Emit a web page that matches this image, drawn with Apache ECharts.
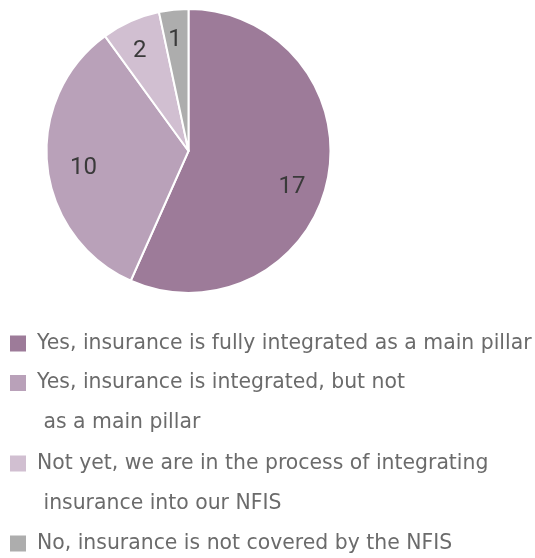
<!DOCTYPE html>
<html><head><meta charset="utf-8">
<script src="https://cdn.jsdelivr.net/npm/echarts@6/dist/echarts.min.js"></script>
<style>html,body{margin:0;padding:0;background:#fff}#c{width:535px;height:558px}</style>
</head><body><div id="c"></div>
<script>
const categories = [
  "Yes, insurance is fully integrated as a main pillar",
  "Yes, insurance is integrated, but not\n as a main pillar",
  "Not yet, we are in the process of integrating\n insurance into our NFIS",
  "No, insurance is not covered by the NFIS"
];
const values = [17, 10, 2, 1];
const colors = ["#9d7b99", "#b9a1b9", "#d1bfd1", "#adadad"];

const chart = echarts.init(document.getElementById('c'));
const legendTops = [323.5, 363, 443.5, 523.5];
const legends = categories.map((name, i) => {
  const lines = name.split('\n').length;
  const h = 16 + (lines - 1) * 40;
  return {
    orient: 'vertical',
    left: 10,
    top: legendTops[i],
    padding: 0,
    itemWidth: 22,
    itemHeight: h,
    icon: 'path://M0 0L16 0L16 16L0 16Z M22 ' + h,
    itemStyle: { borderWidth: 0 },
    selectedMode: false,
    data: [name],
    textStyle: { fontFamily: 'DejaVu Sans', fontSize: 20.4, color: '#6b6b6b', lineHeight: 40 }
  };
});
const labelShift = [[-5, 12.5], [5.5, 5.5], [-3.5, 1], [-2, -0.5]];
chart.setOption({
  animation: false,
  color: colors,
  legend: legends,
  series: [{
    type: 'pie',
    center: [188.5, 151],
    radius: 142,
    startAngle: 90,
    label: { show: false },
    labelLine: { show: false },
    itemStyle: { borderColor: '#ffffff', borderWidth: 2 },
    emphasis: { disabled: true },
    data: categories.map((n, i) => ({ name: n, value: values[i] }))
  }, {
    type: 'pie',
    center: [188.5, 151],
    radius: [74, 142],
    startAngle: 90,
    silent: true,
    itemStyle: { color: 'rgba(0,0,0,0)' },
    label: { show: true, position: 'inside', formatter: '{c}', fontFamily: 'Roboto', fontSize: 24, color: '#3a3a3a' },
    labelLine: { show: false },
    labelLayout: function (p) { const s = labelShift[p.dataIndex]; return { dx: s[0], dy: s[1] }; },
    emphasis: { disabled: true },
    data: categories.map((n, i) => ({ name: n, value: values[i] }))
  }]
});
</script></body></html>
